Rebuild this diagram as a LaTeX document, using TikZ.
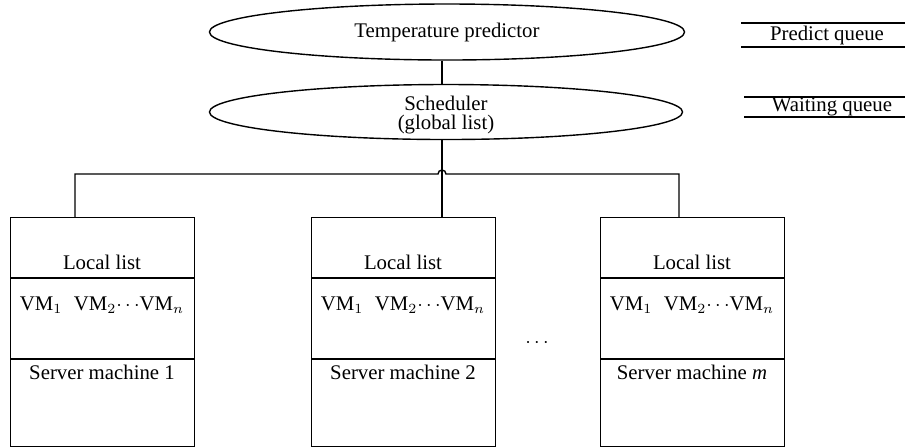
\documentclass[tikz,border=0pt]{standalone}
\usepackage{fontspec}
\setmainfont{Liberation Serif}
\usetikzlibrary{shapes.geometric}

\tikzset{
	oval/.style={ellipse, draw, inner sep=0pt},
	machine/.style={draw, anchor=north west, minimum width=92pt, minimum height=114.5pt, inner sep=0pt},
}

\begin{document}
\begin{tikzpicture}[x=0.5pt, y=-0.5pt, line width=0.7pt, font=\fontsize{10.4}{9.5}\selectfont]
	\useasboundingbox (0,0) rectangle (905,447);

	% Эллипсы
	\node[oval, minimum width=237.5pt, minimum height=28pt] (pred) at (447,32) {};
	\node (predtext) at (pred) {Temperature predictor};
	\node[oval, minimum width=236.5pt, minimum height=27.5pt] (sched) at (446,112) {};
	\node[align=center] (schedtext) at (446,115) {Scheduler\\(global list)};

	% Очереди справа
	\node (pq) at (827,35) {Predict queue};
	\draw (741,23) -- (905,23) (741,47) -- (905,47);
	\node (wq) at (832,107) {Waiting queue};
	\draw (744,97) -- (905,97) (744,117) -- (905,117);

	% Серверы
	\foreach \i/\x/\c/\name in {1/10/75/1, 2/311/442/2, 3/600/679/\textit{m}} {
		\node[machine] (m\i) at (\x,217) {};
		\coordinate (c\i) at (\c,217);
		\draw (\x,278) -- ++(184,0); % Local list
		\draw (\x,359) -- ++(184,0); % VM
		\node (ll\i) at (\x+92,262) {Local list};
		\node (vm\i) at (\x+92,305) {VM$_1$\hspace{0.55em}VM$_2{\cdots}$VM$_n$};
		\node (sm\i) at (\x+92,372) {Server machine \name};
	}
	\node (dots) at (537,343) {$\cdots$};

	% Линии
	\coordinate (bus) at (438,174);
	\draw (pred.south -| c2) -- (sched.north -| c2);
	\draw (sched.south -| c2) -- (c2);
	\draw (c1) -- (c1 |- bus) -- (bus) arc[start angle=180, end angle=360, radius=4] -- (c3 |- bus) -- (c3);
\end{tikzpicture}
\end{document}
